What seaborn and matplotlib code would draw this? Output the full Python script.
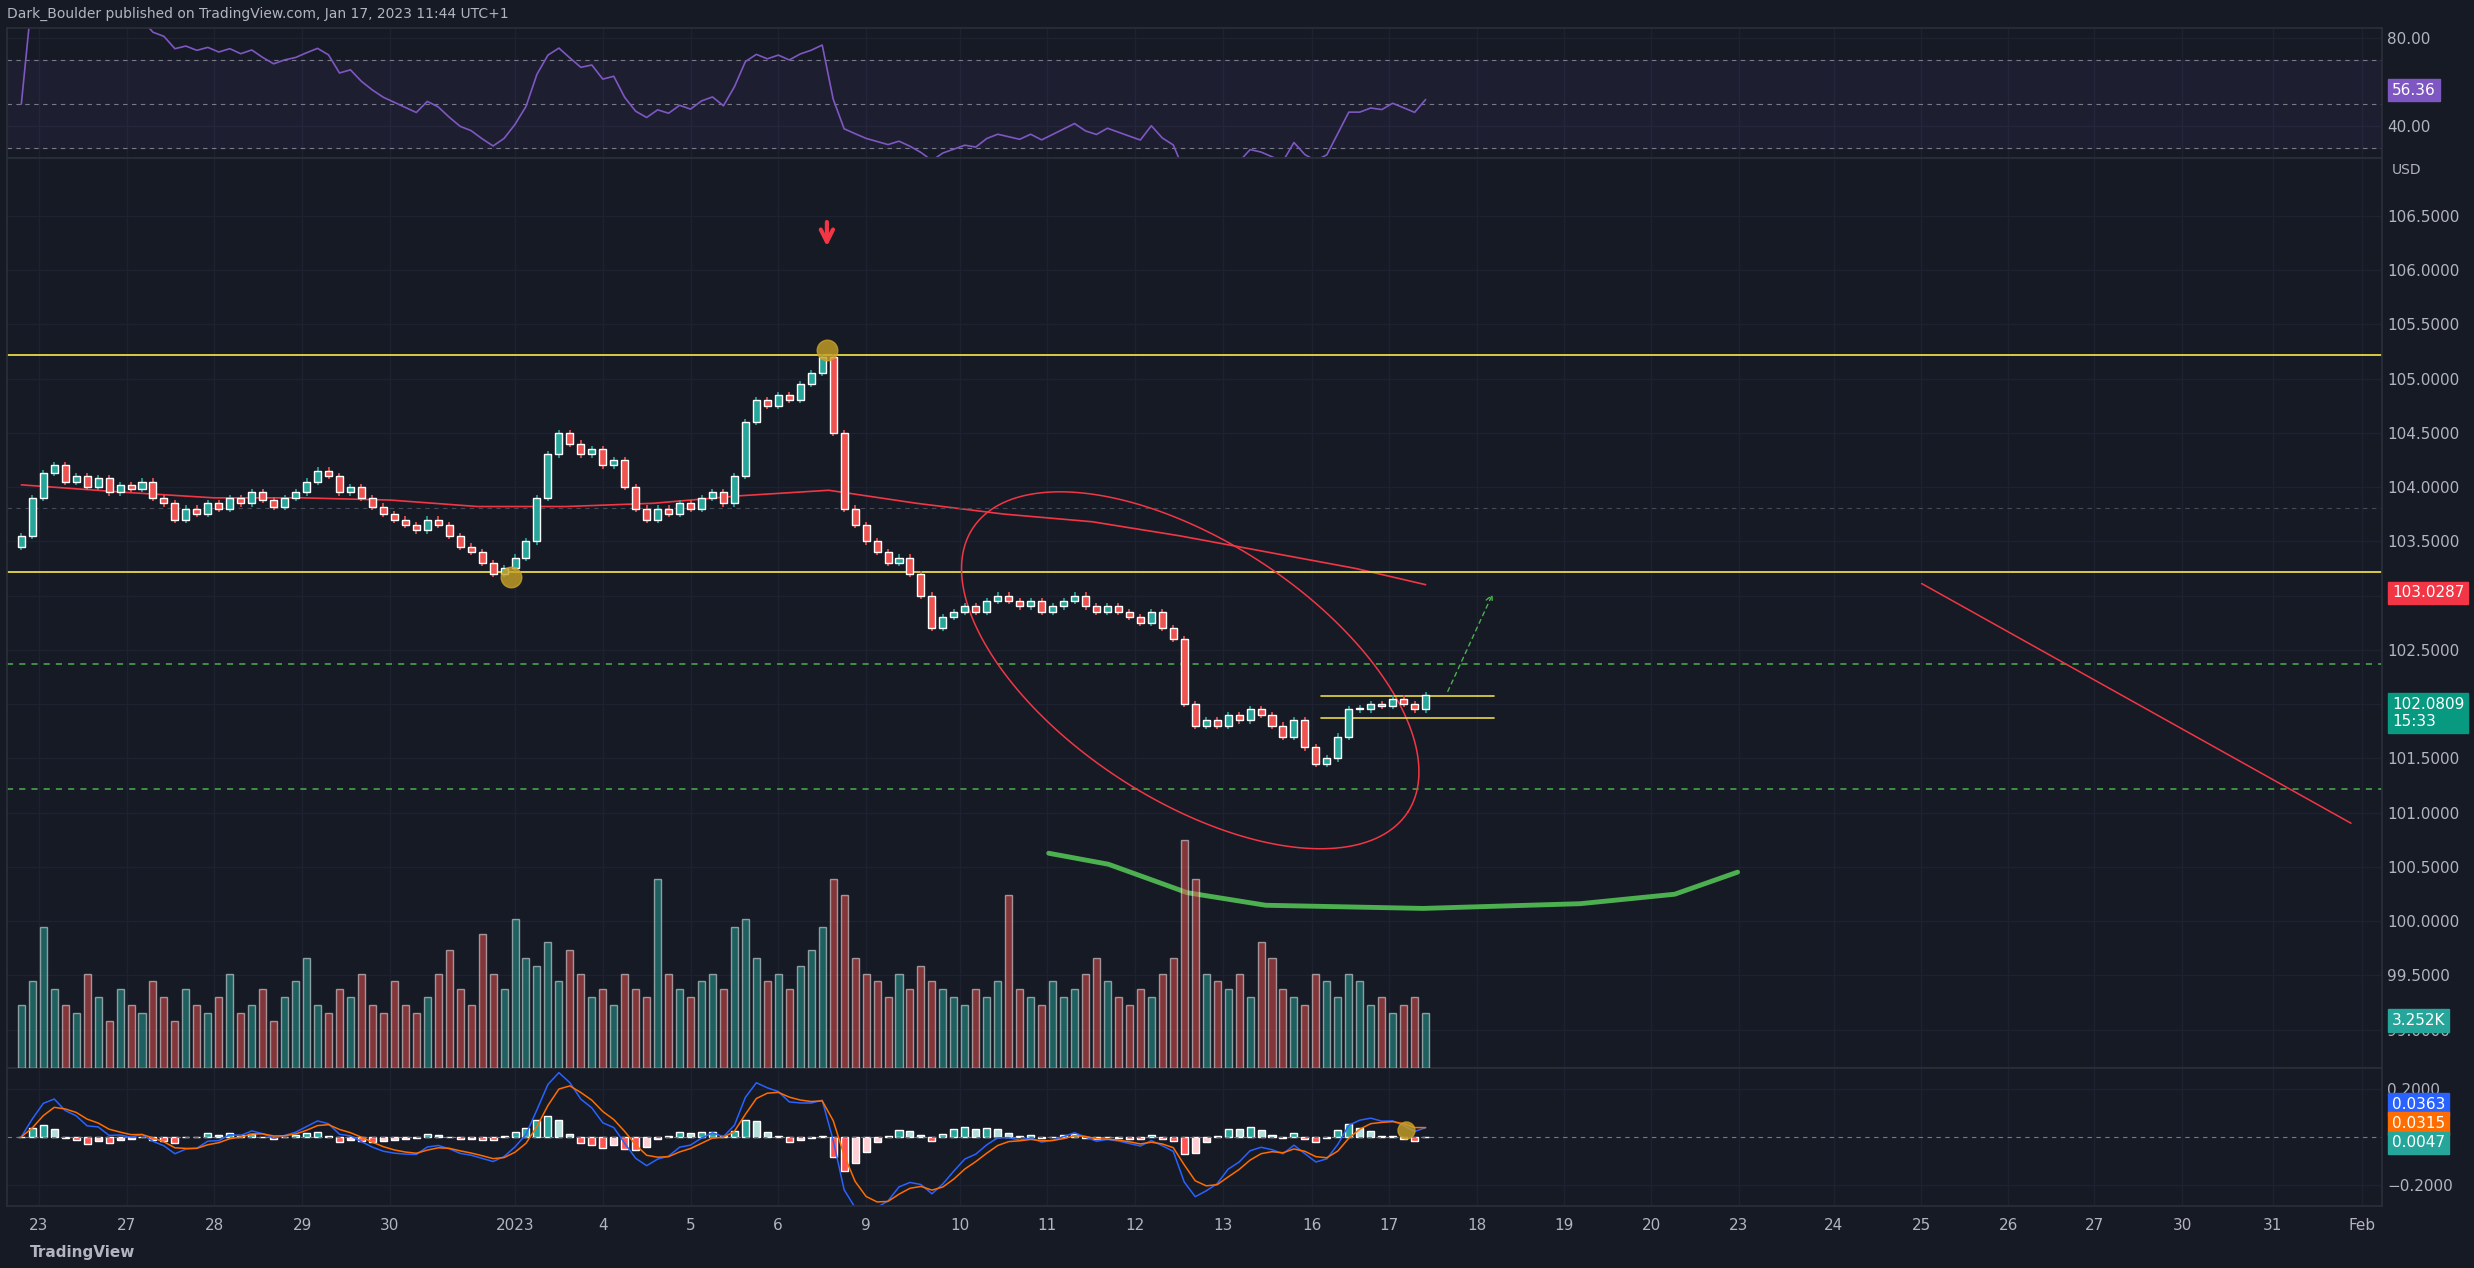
import numpy as np
import pandas as pd
import matplotlib
matplotlib.use("Agg")
import matplotlib.pyplot as plt
import seaborn as sns

# ---------------- data ----------------
closes = [103.55, 103.9,
          104.13, 104.2, 104.05, 104.1, 104.0, 104.08, 103.95, 104.02,
          103.98, 104.05, 103.9, 103.85, 103.7, 103.8, 103.75, 103.85,
          103.8, 103.9, 103.85, 103.95, 103.88, 103.82, 103.9, 103.95,
          104.05, 104.15, 104.1, 103.95, 104.0, 103.9, 103.82, 103.75,
          103.7, 103.65, 103.6, 103.7, 103.65, 103.55, 103.45, 103.4,
          103.3, 103.2, 103.25, 103.35, 103.5, 103.9, 104.3, 104.5,
          104.4, 104.3, 104.35, 104.2, 104.25, 104.0, 103.8, 103.7,
          103.8, 103.75, 103.85, 103.8, 103.9, 103.95, 103.85, 104.1,
          104.6, 104.8, 104.75, 104.85, 104.8, 104.95, 105.05, 105.2,
          104.5, 103.8, 103.65, 103.5, 103.4, 103.3, 103.35, 103.2,
          103.0, 102.7, 102.8, 102.85, 102.9, 102.85, 102.95, 103.0,
          102.95, 102.9, 102.95, 102.85, 102.9, 102.95, 103.0, 102.9,
          102.85, 102.9, 102.85, 102.8, 102.75, 102.85, 102.7, 102.6,
          102.0, 101.8, 101.85, 101.8, 101.9, 101.85, 101.95, 101.9,
          101.8, 101.7, 101.85, 101.6, 101.45, 101.5, 101.7, 101.95,
          101.95, 102.0, 101.98, 102.05, 102.0, 101.95, 102.08]
volumes = [40, 55,
           90, 50, 40, 35, 60, 45, 30, 50,
           40, 35, 55, 45, 30, 50, 40, 35,
           45, 60, 35, 40, 50, 30, 45, 55,
           70, 40, 35, 50, 45, 60, 40, 35,
           55, 40, 35, 45, 60, 75, 50, 40,
           85, 60, 50, 95, 70, 65, 80, 55,
           75, 60, 45, 50, 40, 60, 50, 45,
           120, 60, 50, 45, 55, 60, 50, 90,
           95, 70, 55, 60, 50, 65, 75, 90,
           120, 110, 70, 60, 55, 45, 60, 50,
           65, 55, 50, 45, 40, 50, 45, 55,
           110, 50, 45, 40, 55, 45, 50, 60,
           70, 55, 45, 40, 50, 45, 60, 70,
           145, 120, 60, 55, 50, 60, 45, 80,
           70, 50, 45, 40, 60, 55, 45, 60,
           55, 40, 45, 35, 40, 45, 35]
ma_days = [-0.2, 1, 2, 3, 4, 5, 6, 7, 8, 9, 10, 11, 12, 13, 14, 15, 15.8]
ma_vals = [104.02, 103.95, 103.9, 103.9, 103.88, 103.82, 103.82, 103.85, 103.92,
           103.97, 103.85, 103.75, 103.68, 103.55, 103.4, 103.25, 103.1]
tick_labels = ["23", "27", "28", "29", "30", "2023", "4", "5", "6", "9", "10", "11", "12",
               "13", "16", "17", "18", "19", "20", "23", "24", "25", "26", "27", "30", "31", "Feb"]
tick_pos = [0, 1, 2, 3, 4, 5.43, 6.43, 7.43, 8.42, 9.42, 10.5, 11.49, 12.49, 13.49,
            14.5, 15.38, 16.38, 17.38, 18.37, 19.37, 20.45, 21.45, 22.44, 23.42, 24.42, 25.45, 26.47]
h_yellow = [105.22, 103.22]
h_green = [102.37, 101.22]

# ---------------- helpers ----------------
def px2u(px): return (px - 20) / 55.8
def py2p(py): return 105 - (py - 240) / 68.8

BG = "#161a25"
TXT = "#b2b5be"
UP = "#26a69a"
DN = "#ef5350"
sns.set_theme(style="dark", rc={"axes.facecolor": BG, "figure.facecolor": BG})

n = len(closes)
x = -0.2 + 0.125 * np.arange(n)
df = pd.DataFrame({"x": x, "close": closes, "vol": volumes})
df["open"] = df["close"].shift(1).fillna(df["close"].iloc[0] - 0.1)
df["up"] = df["close"] >= df["open"]

fig = plt.figure(figsize=(24.74, 12.68), dpi=100)
W = 1510 / 1568
ax_rsi = fig.add_axes([0.003, 1 - 100 / 804, W - 0.003, 82 / 804])
ax = fig.add_axes([0.003, 1 - 677 / 804, W - 0.003, 577 / 804])
ax_m = fig.add_axes([0.003, 1 - 765 / 804, W - 0.003, 88 / 804])
XL = (px2u(0), px2u(1510))

axv = ax.twinx()
axv.set_ylim(0, 580)
axv.set_axis_off()

for a in (ax_rsi, ax, ax_m):
    a.set_facecolor(BG)
    a.set_xlim(*XL)
    for s in a.spines.values():
        s.set_color("#2a2e39")
    a.tick_params(colors=TXT, labelsize=11, length=0)
    a.yaxis.tick_right()
    a.yaxis.set_label_position("right")
    a.set_xticks(tick_pos)
    a.grid(True, color="#1e2230", lw=1)
    a.set_xticklabels([])

# ---------------- main ----------------
ax.set_ylim(py2p(677), py2p(100))
yt = np.arange(99.0, 106.51, 0.5)
ax.set_yticks(yt)
ax.set_yticklabels([f"{v:.4f}" for v in yt])
ax.tick_params(axis="y", labelright=True, labelleft=False)
colors = np.where(df["up"], UP, DN)
body_lo = np.minimum(df["open"], df["close"])
body_h = np.maximum(np.abs(df["close"] - df["open"]), 0.01)
ax.vlines(df["x"], body_lo - 0.03, body_lo + body_h + 0.03, color=colors, lw=1.2, zorder=3)
ax.bar(df["x"], body_h, bottom=body_lo, width=0.08, color=colors, zorder=4)

axv.bar(df["x"], df["vol"], width=0.08, color=colors, alpha=0.5)

sns.lineplot(x=ma_days, y=ma_vals, ax=ax, color="#f23645", lw=1.2)
for v in h_yellow:
    ax.axhline(v, color="#e8d84a", lw=1.3)
for v in h_green:
    ax.axhline(v, color="#4caf50", lw=1.1, ls=(0, (4, 4)))
ax.axhline(py2p(322), color="#444a58", lw=0.8, ls=(0, (4, 4)))

ax.annotate("", xy=(px2u(521), py2p(158)), xytext=(px2u(521), py2p(139)),
            arrowprops=dict(arrowstyle="->", color="#f23645", lw=3, mutation_scale=22))
ax.scatter([px2u(521), px2u(320)], [py2p(222), py2p(366)], s=220, color="#c9a227",
           alpha=0.8, zorder=6, edgecolor="#c9a227")
t = np.linspace(0, 2 * np.pi, 200)
ang = np.deg2rad(33)
ex = 752 + 165 * np.cos(t) * np.cos(ang) - 82 * np.sin(t) * np.sin(ang)
ey = 425 + 165 * np.cos(t) * np.sin(ang) + 82 * np.sin(t) * np.cos(ang)
ax.plot(px2u(ex), py2p(ey), color="#f23645", lw=1.1)
ax.plot([px2u(1217), px2u(1490)], [py2p(370), py2p(522)], color="#f23645", lw=1.1)
gx = np.array([662, 700, 750, 800, 900, 1000, 1060, 1100])
gy = np.array([541, 548, 566, 574, 576, 573, 567, 553])
ax.plot(px2u(gx), py2p(gy), color="#4caf50", lw=3.5, solid_capstyle="round")
for py in (441, 455):
    ax.plot([px2u(835), px2u(945)], [py2p(py)] * 2, color="#e8d84a", lw=1.2)
ax.annotate("", xy=(px2u(945), py2p(375)), xytext=(px2u(915), py2p(440)),
            arrowprops=dict(arrowstyle="->", color="#4caf50", lw=1, ls=(0, (3, 3))))

def tag(a, y, s, fc, tc="white"):
    a.text(1.004, y, s, transform=a.get_yaxis_transform(), fontsize=11, color=tc,
           va="center", ha="left", bbox=dict(boxstyle="square,pad=0.25", fc=fc, ec=fc))
tag(ax, py2p(376), "103.0287", "#f23645")
tag(ax, py2p(452), "102.0809\n15:33", "#089981")
tag(ax, py2p(647), "3.252K", "#26a69a")
ax.text(1.004, py2p(108), "USD", transform=ax.get_yaxis_transform(), fontsize=10,
        color=TXT, va="center")

# ---------------- RSI ----------------
delta = df["close"].diff()
gain = delta.clip(lower=0).ewm(alpha=1 / 12, adjust=False).mean()
loss = (-delta.clip(upper=0)).ewm(alpha=1 / 12, adjust=False).mean()
rsi = (100 - 100 / (1 + gain / loss.replace(0, 1e-9))).fillna(50)
ax_rsi.set_ylim(25.7, 84.3)
ax_rsi.axhspan(30, 70, color="#7e57c2", alpha=0.08)
for v in (70, 50, 30):
    ax_rsi.axhline(v, color="#787b86", lw=0.8, ls=(0, (4, 4)))
sns.lineplot(x=df["x"], y=rsi, ax=ax_rsi, color="#7e57c2", lw=1.2)
ax_rsi.set_yticks([40, 80])
ax_rsi.set_yticklabels(["40.00", "80.00"])
ax_rsi.set_ylabel("")
tag(ax_rsi, 56.36, "56.36", "#7e57c2")

# ---------------- MACD ----------------
f = df["close"].ewm(span=3, adjust=False).mean()
s = df["close"].ewm(span=6, adjust=False).mean()
macd = f - s
sig = macd.ewm(span=3, adjust=False).mean()
hist = macd - sig
ax_m.set_ylim(-0.292, 0.29)
ax_m.axhline(0, color="#787b86", lw=0.8, ls=(0, (4, 4)))
hc = np.where(hist >= 0, np.where(hist.diff() >= 0, "#26a69a", "#b2dfdb"),
              np.where(hist.diff() <= 0, "#ff5252", "#ffcdd2"))
ax_m.bar(df["x"], hist, width=0.08, color=hc)
sns.lineplot(x=df["x"], y=macd, ax=ax_m, color="#2962ff", lw=1.1)
sns.lineplot(x=df["x"], y=sig, ax=ax_m, color="#ff6d00", lw=1.1)
ax_m.set_yticks([-0.2, 0.2])
ax_m.set_yticklabels(["\u22120.2000", "0.2000"])
ax_m.set_ylabel("")
ax_m.set_xticklabels(tick_labels)
ax_m.tick_params(axis="x", pad=8, labelsize=11)
ax_m.scatter([px2u(889)], [0.03], s=150, color="#c9a227", alpha=0.8, zorder=6)
tag(ax_m, 0.135, "0.0363", "#2962ff")
tag(ax_m, 0.055, "0.0315", "#ff6d00")
tag(ax_m, -0.025, "0.0047", "#26a69a")
for a in (ax, ax_rsi, ax_m):
    a.set_xlabel("")

fig.text(0.003, 1 - 9 / 804, "Dark_Boulder published on TradingView.com, Jan 17, 2023 11:44 UTC+1",
         color=TXT, fontsize=10, va="center")
fig.text(0.012, 1 - 794 / 804, "TradingView", color=TXT, fontsize=11, va="center",
         fontweight="bold")
fig.savefig("out.png", dpi=100, facecolor=BG)
